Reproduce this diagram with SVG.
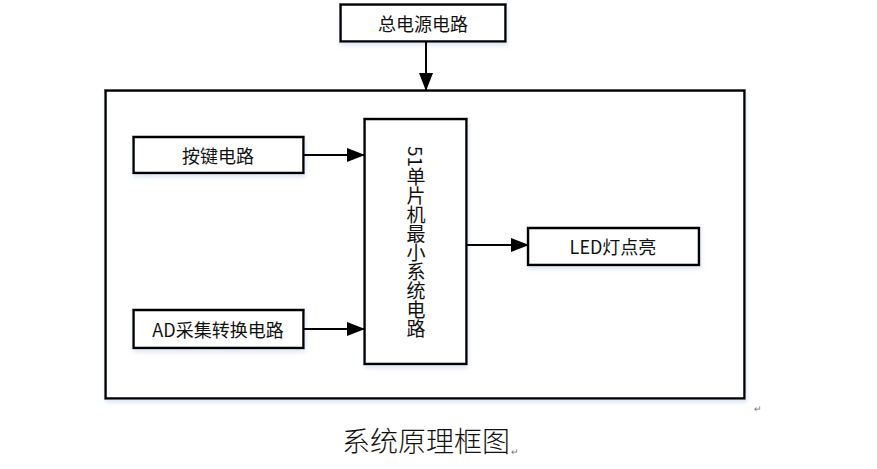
<svg xmlns="http://www.w3.org/2000/svg" width="877" height="469" viewBox="0 0 877 469">
<style>
.box{fill:#fff;stroke:#000;stroke-width:2.5;filter:url(#sh)}
.lbl{font-family:"Noto Sans CJK SC","Liberation Sans",sans-serif;font-size:18px;fill:#111;text-anchor:middle;dominant-baseline:central}
.conn{stroke:#000;stroke-width:2;fill:none;marker-end:url(#ah)}
.mark{font-family:"Liberation Sans",sans-serif;font-size:9px;fill:#777}
</style>
<defs>
<filter id="sh" x="-10%" y="-10%" width="125%" height="140%">
<feGaussianBlur in="SourceAlpha" stdDeviation="2"/>
<feOffset dx="1" dy="3" result="b"/>
<feFlood flood-color="#c8d8ec" flood-opacity="0.6"/>
<feComposite in2="b" operator="in"/>
<feMerge><feMergeNode/><feMergeNode in="SourceGraphic"/></feMerge>
</filter>
<marker id="ah" markerWidth="18" markerHeight="14" refX="17" refY="7" orient="auto" markerUnits="userSpaceOnUse">
<path d="M0,0 L18,7 L0,14 Z" fill="#000"/>
</marker>
</defs>
<rect width="877" height="469" fill="#fff"/>
<g id="outer"><rect class="box" x="105.5" y="90.5" width="639" height="308"/></g>
<g id="power"><rect class="box" x="340.5" y="4.5" width="165" height="37"/><text class="lbl" x="423" y="23">总电源电路</text></g>
<g id="key"><rect class="box" x="133.5" y="137" width="170" height="36"/><text class="lbl" x="218" y="155">按键电路</text></g>
<g id="ad"><rect class="box" x="133.5" y="310" width="170" height="38"/><text class="lbl" x="218" y="329">AD采集转换电路</text></g>
<g id="mcu"><rect class="box" x="364.5" y="119" width="102" height="245"/><text class="lbl" x="416" y="242" style="writing-mode:vertical-rl;font-size:19px">51单片机最小系统电路</text></g>
<g id="led"><rect class="box" x="528" y="228" width="171" height="37"/><text class="lbl" x="613" y="246">LED灯点亮</text></g>
<g id="connectors">
<line class="conn" x1="426" y1="42" x2="426" y2="90"/>
<line class="conn" x1="303.5" y1="155" x2="364" y2="155"/>
<line class="conn" x1="303.5" y1="329" x2="364" y2="329"/>
<line class="conn" x1="467" y1="245" x2="528" y2="245"/>
</g>
<text class="mark" x="754" y="412">↵</text>
<text x="342" y="452" style="font-family:'Noto Sans CJK SC',sans-serif;font-size:28px;font-weight:300;fill:#111">系统原理框图</text>
<text class="mark" x="511" y="455">↵</text>
</svg>
